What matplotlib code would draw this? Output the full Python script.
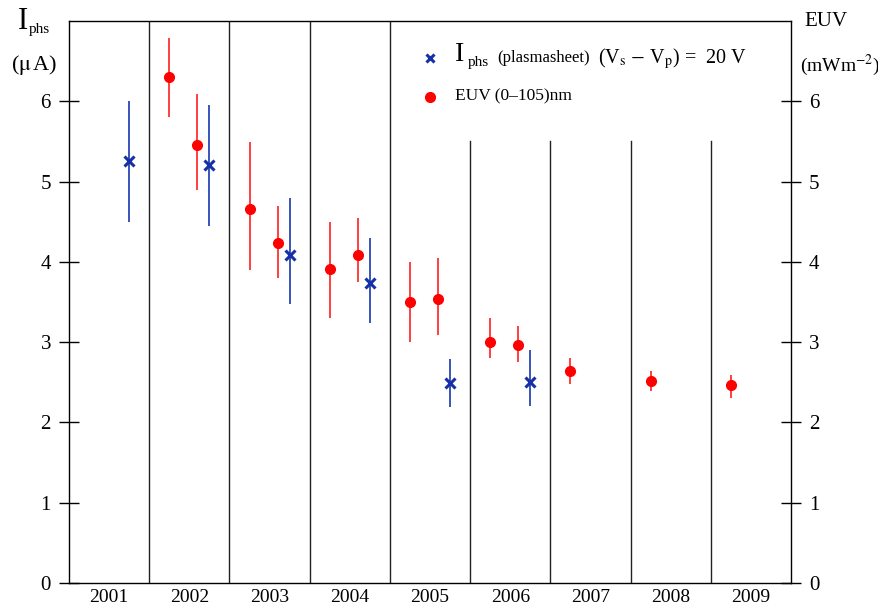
import matplotlib
matplotlib.use("Agg")
import matplotlib.pyplot as plt
import numpy as np

plt.rcParams['font.family'] = ['Liberation Serif', 'DejaVu Serif']
plt.rcParams['mathtext.fontset'] = 'stix'

years = [2001, 2002, 2003, 2004, 2005, 2006, 2007, 2008, 2009]

# photoelectron current, plasmasheet (uA)
iphs_t = [2001.75, 2002.75, 2003.75, 2004.75, 2005.75, 2006.75]
iphs = [5.25, 5.2, 4.08, 3.74, 2.49, 2.5]
iphs_lo = [0.75, 0.75, 0.6, 0.5, 0.3, 0.3]
iphs_hi = [0.75, 0.75, 0.72, 0.56, 0.3, 0.4]

# EUV flux (mW m^-2)
euv_t = [2002.25, 2002.6, 2003.25, 2003.6, 2004.25, 2004.6, 2005.25, 2005.6,
         2006.25, 2006.6, 2007.25, 2008.25, 2009.25]
euv = [6.3, 5.45, 4.66, 4.23, 3.91, 4.09, 3.5, 3.54, 3.0, 2.96, 2.64, 2.52, 2.46]
euv_lo = [0.5, 0.55, 0.76, 0.43, 0.61, 0.34, 0.5, 0.45, 0.2, 0.21, 0.16, 0.13, 0.16]
euv_hi = [0.49, 0.64, 0.83, 0.46, 0.59, 0.46, 0.5, 0.51, 0.3, 0.24, 0.16, 0.12, 0.13]

fig = plt.figure(figsize=(8.79, 6.10), dpi=100)
ax = fig.add_axes([0.0785, 0.0443, 0.8214, 0.9213])

red = '#ff0000'
blue = '#1530a8'

ax.errorbar(euv_t, euv, yerr=[euv_lo, euv_hi], fmt='o', color=red, ms=7,
            ecolor='#ff3030', elinewidth=1.3, capsize=0, zorder=3)
ax.errorbar(iphs_t, iphs, yerr=[iphs_lo, iphs_hi], fmt='x', color=blue, ms=7,
            mew=2.2, ecolor='#2a45b5', elinewidth=1.3, capsize=0, zorder=3)

# year separators; those under the legend stop at 5.5
for y in years[1:]:
    top = 7 if y <= 2005 else 5.5
    ax.plot([y, y], [0, top], color='#222222', lw=1, zorder=1)

ax.set_xlim(2001, 2010)
ax.set_ylim(0, 7)
ax.set_xticks([y + 0.5 for y in years])
ax.set_xticklabels([str(y) for y in years])
ax.set_yticks(range(0, 7))
ax.tick_params(axis='x', length=0, labelsize=14, pad=4)
ax.tick_params(axis='y', direction='inout', length=14, width=1,
               labelsize=15, right=True, labelright=True, pad=6)
for s in ax.spines.values():
    s.set_linewidth(1)

# axis titles
fig.text(0.02, 0.965, r'I', fontsize=22, va='center', ha='left')
fig.text(0.033, 0.952, 'phs', fontsize=11, va='center', ha='left')
fig.text(0.013, 0.893, r'($\mathrm{\mu}\,$A)', fontsize=16, va='center', ha='left')
fig.text(0.915, 0.965, 'EUV', fontsize=15, va='center', ha='left')
fig.text(0.91, 0.893, r'(mWm$^{-2}$)', fontsize=14, va='center', ha='left')

# legend
ax.plot([0.5], [0.934], transform=ax.transAxes, marker='x', color=blue,
        ms=6, mew=2.2, ls='none', clip_on=False)
ax.text(0.535, 0.94, 'I', transform=ax.transAxes, fontsize=20, va='center')
ax.text(0.552, 0.926, 'phs', transform=ax.transAxes, fontsize=11, va='center')
ax.text(0.593, 0.934, '(plasmasheet)', transform=ax.transAxes, fontsize=12, va='center')
ax.text(0.733, 0.934, r'(V$_\mathrm{s}$ $-$ V$_\mathrm{p}$) =  20 V',
        transform=ax.transAxes, fontsize=14.5, va='center')
ax.plot([0.5], [0.865], transform=ax.transAxes, marker='o', color=red,
        ms=7, ls='none', clip_on=False)
ax.text(0.535, 0.865, 'EUV (0\u2013105)nm', transform=ax.transAxes,
        fontsize=12.5, va='center')

plt.savefig('out.png', dpi=100)
